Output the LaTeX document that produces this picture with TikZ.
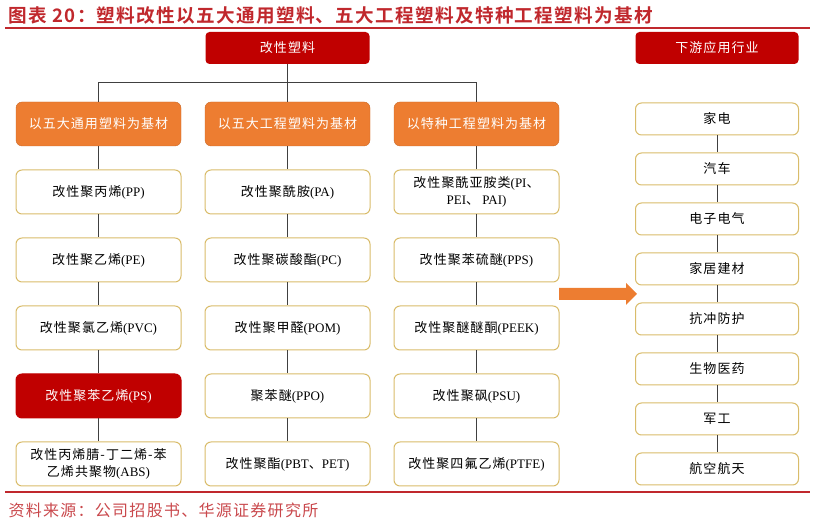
\documentclass[tikz,border=0pt]{standalone}
\usepackage{fontspec}
\setmainfont{Liberation Serif}
\newfontfamily\cjk[LetterSpace=8]{Noto Sans CJK SC}
\newfontfamily\cjkbold[LetterSpace=7]{Noto Sans CJK SC Bold}
\usetikzlibrary{positioning}
\definecolor{hyred}{HTML}{C00000}
\definecolor{hyorange}{HTML}{ED7D31}
\definecolor{hygold}{HTML}{D9BC6A}
\definecolor{hytitle}{HTML}{C0282D}
\newcommand{\cn}[1]{{\cjk #1}}

\begin{document}
\begin{tikzpicture}[x=1pt,y=1pt,on grid,node distance=68pt and 189pt,font=\fontsize{13}{17}\selectfont]
\tikzset{headbox/.style={rectangle,rounded corners=4pt,fill=hyred,text=white,minimum width=164pt,minimum height=32pt}}
\tikzset{basebox/.style={rectangle,rounded corners=6pt,fill=hyorange,draw=hyorange!85!black,text=white,minimum width=165pt,minimum height=44pt}}
\tikzset{itembox/.style={rectangle,rounded corners=6pt,fill=white,draw=hygold,line width=1pt,align=center,minimum width=165pt,minimum height=44pt}}
\tikzset{usebox/.style={itembox,minimum width=163pt,minimum height=32pt}}
\tikzset{link/.style={draw=black!75,line width=0.8pt}}
\useasboundingbox (0,0) rectangle (815,524);
% title and rules
\node[anchor=west,text=hytitle,font=\fontsize{18.6}{21}\cjkbold] (title) at (5,509) {图表 20：塑料改性以五大通用塑料、五大工程塑料及特种工程塑料为基材};
\draw[hytitle,line width=1.5pt] (5,496) -- (810,496);
\draw[hytitle,line width=1.5pt] (5,32) -- (810,32);
\node[anchor=west,text=hytitle!85,font=\fontsize{16}{18}\cjk] (src) at (5,14) {资料来源：公司招股书、华源证券研究所};
% top level
\node[headbox]          (top)  at (287.5,476)      {\cn{改性塑料}};
\node[basebox]          (A2)   at (287.5,400)      {\cn{以五大工程塑料为基材}};
\node[basebox]          (A1)   [left =of A2]       {\cn{以五大通用塑料为基材}};
\node[basebox]          (A3)   [right =of A2]      {\cn{以特种工程塑料为基材}};
% general plastics
\node[itembox]          (G1)   [below =of A1]      {\cn{改性聚丙烯}(PP)};
\node[itembox]          (G2)   [below =of G1]      {\cn{改性聚乙烯}(PE)};
\node[itembox]          (G3)   [below =of G2]      {\cn{改性聚氯乙烯}(PVC)};
\node[itembox,fill=hyred,draw=hyred,text=white] (G4) [below =of G3] {\cn{改性聚苯乙烯}(PS)};
\node[itembox]          (G5)   [below =of G4]      {\cn{改性丙烯腈-丁二烯-苯}\\\cn{乙烯共聚物}(ABS)};
% engineering plastics
\node[itembox]          (E1)   [below =of A2]      {\cn{改性聚酰胺}(PA)};
\node[itembox]          (E2)   [below =of E1]      {\cn{改性聚碳酸酯}(PC)};
\node[itembox]          (E3)   [below =of E2]      {\cn{改性聚甲醛}(POM)};
\node[itembox]          (E4)   [below =of E3]      {\cn{聚苯醚}(PPO)};
\node[itembox]          (E5)   [below =of E4]      {\cn{改性聚酯}(PBT\cn{、}PET)};
% special engineering plastics
\node[itembox]          (S1)   [below =of A3]      {\cn{改性聚酰亚胺类}(PI\cn{、}\\PEI\cn{、} PAI)};
\node[itembox]          (S2)   [below =of S1]      {\cn{改性聚苯硫醚}(PPS)};
\node[itembox]          (S3)   [below =of S2]      {\cn{改性聚醚醚酮}(PEEK)};
\node[itembox]          (S4)   [below =of S3]      {\cn{改性聚砜}(PSU)};
\node[itembox]          (S5)   [below =of S4]      {\cn{改性聚四氟乙烯}(PTFE)};
% downstream
\node[headbox,minimum width=163pt] (D0) at (717,476) {\cn{下游应用行业}};
\node[usebox]           (D1)   at (717,405)        {\cn{家电}};
\node[usebox]           (D2)   [below =50pt of D1] {\cn{汽车}};
\node[usebox]           (D3)   [below =50pt of D2] {\cn{电子电气}};
\node[usebox]           (D4)   [below =50pt of D3] {\cn{家居建材}};
\node[usebox]           (D5)   [below =50pt of D4] {\cn{抗冲防护}};
\node[usebox]           (D6)   [below =50pt of D5] {\cn{生物医药}};
\node[usebox]           (D7)   [below =50pt of D6] {\cn{军工}};
\node[usebox]           (D8)   [below =50pt of D7] {\cn{航空航天}};
% connectors
\path[link] (top.south) -- (A2.north);
\path[link] (A1.north) -- ++(0,19) -| (A3.north);
\foreach \c/\f in {G/A1,E/A2,S/A3} {
  \path[link] (\f.south) -- (\c1.north);
  \foreach \i [evaluate=\i as \j using int(\i+1)] in {1,...,4}
    \path[link] (\c\i.south) -- (\c\j.north);
}
\foreach \i [evaluate=\i as \j using int(\i+1)] in {1,...,7}
  \path[link] (D\i.south) -- (D\j.north);
% arrow
\fill[hyorange] (559,224) -- (626,224) -- (626,219) -- (637,230) -- (626,241) -- (626,236) -- (559,236) -- cycle;
\end{tikzpicture}
\end{document}
